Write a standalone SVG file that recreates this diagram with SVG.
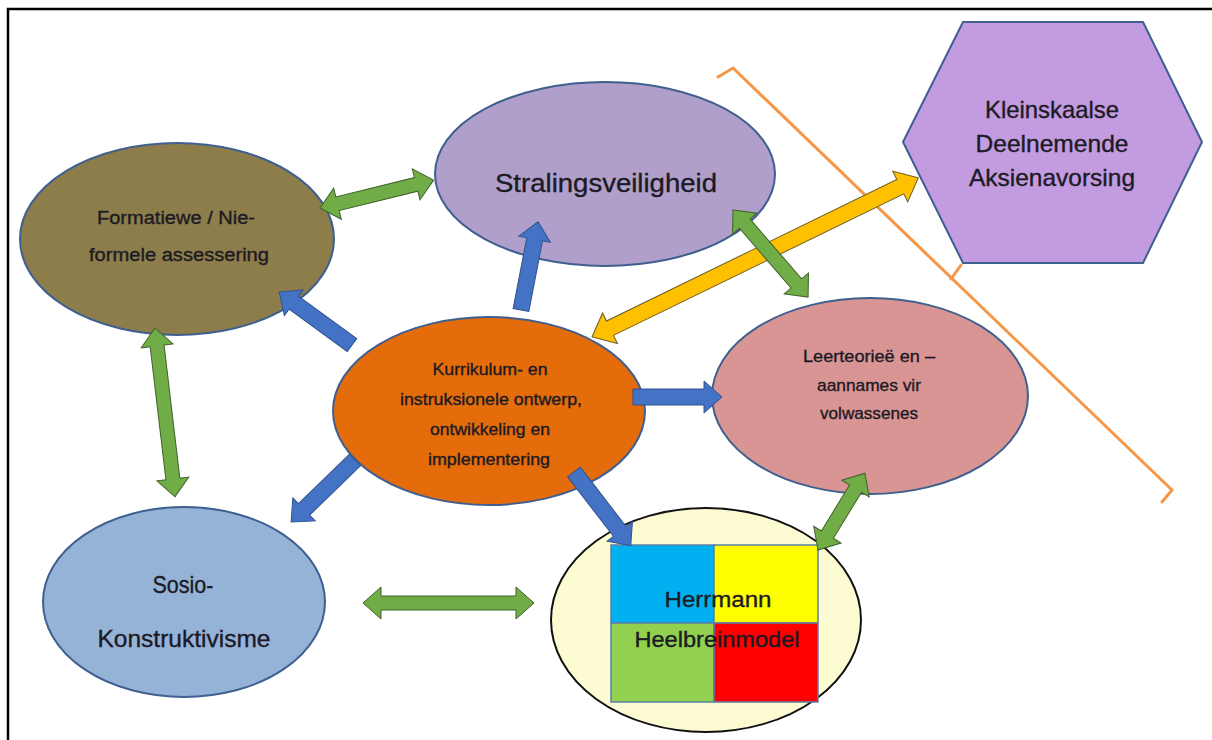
<svg xmlns="http://www.w3.org/2000/svg" width="1212" height="740" viewBox="0 0 1212 740">
  <style>
    .node { stroke: #3f5f8f; stroke-width: 2; }
    .lbl { font-family: "Liberation Sans", Arial, sans-serif; fill: #1c1a24; stroke: #1c1a24; stroke-width: 0.35; text-anchor: middle; }
    .blue { fill: #4472c4; stroke: #2f528f; stroke-width: 1; }
    .green { fill: #70ad47; stroke: #41602a; stroke-width: 1; }
    .yellow { fill: #ffc000; stroke: #6b5a2a; stroke-width: 1; }
    .cell { stroke: #5b7fa8; stroke-width: 1.5; }
  </style>

  <rect x="0" y="0" width="1212" height="740" fill="#ffffff"/>
  <!-- frame -->
  <rect x="8" y="9" width="1230" height="760" fill="none" stroke="#000000" stroke-width="2.5"/>

  <!-- bracket grouping the hexagon -->
  <g id="bracket" fill="none" stroke="#f79646" stroke-width="3" stroke-linejoin="round" stroke-linecap="round">
    <path d="M718,77 L733,68 L1172,490 L1162,502"/>
    <path d="M951,279 L961,265"/>
  </g>

  <g id="formatiewe">
    <ellipse class="node" cx="177" cy="239" rx="157" ry="96" fill="#8c7d4a"/>
    <text class="lbl" x="176" y="224" font-size="18" textLength="158" lengthAdjust="spacingAndGlyphs">Formatiewe / Nie-</text>
    <text class="lbl" x="179" y="261" font-size="18" textLength="180" lengthAdjust="spacingAndGlyphs">formele assessering</text>
  </g>

  <g id="stralingsveiligheid">
    <ellipse class="node" cx="605" cy="174" rx="170" ry="92" fill="#b09fca"/>
    <text class="lbl" x="606" y="192" font-size="26" textLength="222" lengthAdjust="spacingAndGlyphs">Stralingsveiligheid</text>
  </g>

  <g id="aksienavorsing">
    <polygon class="node" points="963,22 1143,22 1202,142 1143,263 963,263 903,142" fill="#c39be0"/>
    <text class="lbl" x="1052" y="118" font-size="24" textLength="134" lengthAdjust="spacingAndGlyphs">Kleinskaalse</text>
    <text class="lbl" x="1052" y="152" font-size="24" textLength="153" lengthAdjust="spacingAndGlyphs">Deelnemende</text>
    <text class="lbl" x="1052" y="186" font-size="24" textLength="166" lengthAdjust="spacingAndGlyphs">Aksienavorsing</text>
  </g>

  <g id="leerteorie">
    <ellipse class="node" cx="870" cy="396" rx="158" ry="98" fill="#d99594"/>
    <text class="lbl" x="869" y="362" font-size="17" textLength="132" lengthAdjust="spacingAndGlyphs">Leerteorieë en –</text>
    <text class="lbl" x="869" y="391" font-size="17" textLength="104" lengthAdjust="spacingAndGlyphs">aannames vir</text>
    <text class="lbl" x="869" y="419" font-size="17" textLength="98" lengthAdjust="spacingAndGlyphs">volwassenes</text>
  </g>

  <g id="kurrikulum">
    <ellipse class="node" cx="489" cy="411" rx="156" ry="94" fill="#e46c0a"/>
    <text class="lbl" x="490" y="375" font-size="16" textLength="115" lengthAdjust="spacingAndGlyphs">Kurrikulum- en</text>
    <text class="lbl" x="491" y="405" font-size="16" textLength="182" lengthAdjust="spacingAndGlyphs">instruksionele ontwerp,</text>
    <text class="lbl" x="490" y="435" font-size="16" textLength="120" lengthAdjust="spacingAndGlyphs">ontwikkeling en</text>
    <text class="lbl" x="489" y="465" font-size="16" textLength="122" lengthAdjust="spacingAndGlyphs">implementering</text>
  </g>

  <g id="sosio">
    <ellipse class="node" cx="184" cy="602" rx="141" ry="95" fill="#95b3d7"/>
    <text class="lbl" x="183" y="593" font-size="24" textLength="61" lengthAdjust="spacingAndGlyphs">Sosio-</text>
    <text class="lbl" x="184" y="647" font-size="24" textLength="173" lengthAdjust="spacingAndGlyphs">Konstruktivisme</text>
  </g>

  <g id="herrmann">
    <ellipse cx="706" cy="620" rx="155" ry="112" fill="#fdfbd2" stroke="#111111" stroke-width="2"/>
    <rect class="cell" x="611" y="545" width="103" height="78" fill="#00b0f0"/>
    <rect class="cell" x="714" y="545" width="104" height="78" fill="#ffff00"/>
    <rect class="cell" x="611" y="623" width="103" height="79" fill="#92d050"/>
    <rect class="cell" x="714" y="623" width="104" height="79" fill="#ff0000"/>
    <text class="lbl" x="718" y="607" font-size="22" textLength="107" lengthAdjust="spacingAndGlyphs">Herrmann</text>
    <text class="lbl" x="717" y="647" font-size="22" textLength="165" lengthAdjust="spacingAndGlyphs">Heelbreinmodel</text>
  </g>

  <g id="connectors">
    <!-- one-way links from the curriculum node -->
    <polygon class="blue" transform="translate(352,345) rotate(-144)" points="0,-8 72,-8 72,-16 90,0 72,16 72,8 0,8"/>
    <polygon class="blue" transform="translate(521,310) rotate(-79.1)" points="0,-8 72,-8 72,-16 90,0 72,16 72,8 0,8"/>
    <polygon class="blue" transform="translate(633,397)" points="0,-8 71,-8 71,-16 89,0 71,16 71,8 0,8"/>
    <polygon class="blue" transform="translate(355,460) rotate(135.9)" points="0,-8 71,-8 71,-16 89,0 71,16 71,8 0,8"/>
    <polygon class="blue" transform="translate(574,472) rotate(52.4)" points="0,-8 75,-8 75,-16 93,0 75,16 75,8 0,8"/>

    <!-- two-way links -->
    <polygon class="green" transform="translate(320,208) rotate(-13.8)" points="0,0 18,-16 18,-7 99,-7 99,-16 117,0 99,16 99,7 18,7 18,16"/>
    <polygon class="green" transform="translate(155,328) rotate(83.25)" points="0,0 18,-16 18,-7 152,-7 152,-16 170,0 152,16 152,7 18,7 18,16"/>
    <polygon class="green" transform="translate(363,603)" points="0,0 18,-16 18,-7 153,-7 153,-16 171,0 153,16 153,7 18,7 18,16"/>
    <polygon class="green" transform="translate(818,550) rotate(-58.6)" points="0,0 18,-16 18,-7 72,-7 72,-16 90,0 72,16 72,7 18,7 18,16"/>
    <polygon class="yellow" transform="translate(592,337) rotate(-26)" points="0,0 20,-17 20,-8 343,-8 343,-17 363,0 343,17 343,8 20,8 20,17"/>
    <polygon class="green" transform="translate(733,210) rotate(49.24)" points="0,0 18,-16 18,-7 97,-7 97,-16 115,0 97,16 97,7 18,7 18,16"/>
  </g>
</svg>
